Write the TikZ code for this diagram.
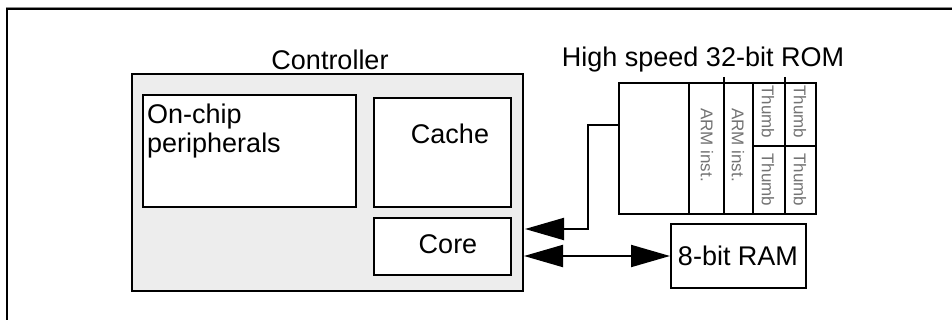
\documentclass[tikz,border=0pt]{standalone}
\usepackage{fontspec}
\setmainfont{Liberation Sans}
\usetikzlibrary{arrows.meta,calc}

\begin{document}
\begin{tikzpicture}[x=1pt,y=-1pt,
  box/.style={draw=black,line width=2pt,fill=white,inner sep=0pt,anchor=north west},
  lbl/.style={font=\fontsize{27}{29}\selectfont,inner sep=0pt},
  cell/.style={font=\fontsize{17}{18}\selectfont,text=black!55,rotate=-90,inner sep=0pt},
  conn/.style={line width=2pt},
  bigtip/.tip={Triangle[length=39pt,width=22pt]}
]
\useasboundingbox (0,0) rectangle (952,320);
\fill[white] (0,0) rectangle (952,320);

% outer frame
\draw[black!45,line width=1pt] (6,8) -- (952,8);
\draw[line width=2pt] (6.5,320) -- (6.5,9.5) -- (952,9.5);

% controller and its blocks
\node[box,fill=black!7,minimum width=391pt,minimum height=217pt] (ctrl) at (131,73) {};
\node[lbl] (ctrllbl) at (330,60) {Controller};
\node[box,minimum width=213pt,minimum height=112pt] (periph) at (142,94) {};
\node[lbl,align=left,anchor=west] (periphlbl) at (147,131) {On-chip\\peripherals};
\node[box,minimum width=137pt,minimum height=109pt] (cache) at (373,97) {};
\node[lbl] (cachelbl) at (450,134) {Cache};
\node[box,minimum width=137pt,minimum height=57pt] (core) at (373,217) {};
\node[lbl] (corelbl) at (448,244) {Core};

% ROM
\node[lbl] (romlbl) at (703,60) {High speed 32-bit ROM};
\node[box,minimum width=197pt,minimum height=131pt] (rom) at (618,82) {};
\draw[line width=2pt] (689,82) -- (689,215);
\draw[line width=2pt] (724,77) -- (724,213);
\draw[line width=2pt] (753,82) -- (753,213);
\draw[line width=2pt] (785,77) -- (785,213);
\draw[line width=2pt] (753,146) -- (815,146);
\node[cell] (arm1) at (707,145) {ARM inst.};
\node[cell] (arm2) at (738,145) {ARM inst.};
\node[cell] (th1) at (768,112) {Thumb};
\node[cell] (th2) at (800,112) {Thumb};
\node[cell] (th3) at (768,180) {Thumb};
\node[cell] (th4) at (800,180) {Thumb};

% RAM
\node[box,minimum width=135pt,minimum height=64pt] (ram) at (670,223) {};
\node[lbl] (ramlbl) at (738,256) {8-bit RAM};

% buses
\coordinate (romport) at (618,125);
\coordinate (romin) at ($(ctrl.east)+(1,46.5)$);
\draw[conn,-bigtip] (romport) -- (588,125) |- (romin);
\draw[conn,bigtip-bigtip] (ctrl.east |- ram.west) -- (ram.west);
\end{tikzpicture}
\end{document}
